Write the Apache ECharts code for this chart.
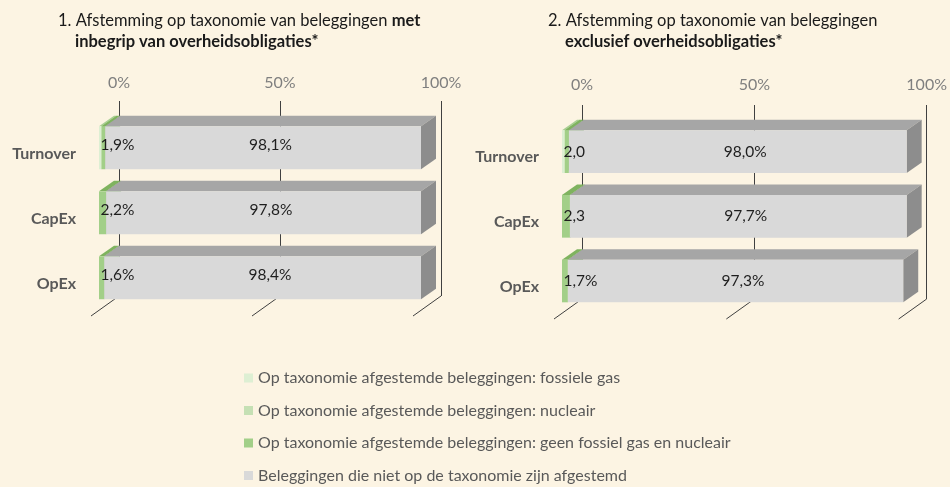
<!DOCTYPE html>
<html>
<head>
<meta charset="utf-8">
<script src="https://cdn.jsdelivr.net/npm/echarts@6/dist/echarts.min.js"></script>
<style>
html,body{margin:0;padding:0;background:#fcf4e3;}
#chart{width:950px;height:487px;}
</style>
</head>
<body>
<div id="chart"></div>
<script>
// ---- data ----
const categories = ['Turnover', 'CapEx', 'OpEx'];
const seriesNames = [
  'Op taxonomie afgestemde beleggingen: fossiele gas',
  'Op taxonomie afgestemde beleggingen: nucleair',
  'Op taxonomie afgestemde beleggingen: geen fossiel gas en nucleair',
  'Beleggingen die niet op de taxonomie zijn afgestemd'
];
// chart 1: met inbegrip van overheidsobligaties
const leftFossilGas = [0.8, 0.0, 0.0];
const leftNuclear   = [0.0, 0.0, 0.0];
const leftOtherAligned = [1.1, 2.2, 1.6];
const leftNotAligned   = [98.1, 97.8, 98.4];
const leftAlignedLabels = ['1,9%', '2,2%', '1,6%'];
// chart 2: exclusief overheidsobligaties
const rightFossilGas = [0.8, 0.0, 0.0];
const rightNuclear   = [0.0, 0.0, 0.0];
const rightOtherAligned = [1.2, 2.3, 1.7];
const rightNotAligned   = [98.0, 97.7, 97.3];
const rightAlignedLabels = ['2,0', '2,3', '1,7%'];
const xTickValues = [0, 50, 100];

// ---- styling ----
const FONT = 'Lato';
const faceColors = [
  {front: '#ddefd3', top: '#a8cf92', side: '#9cc585'},
  {front: '#c5e0b4', top: '#8fc070', side: '#86b868'},
  {front: '#a2cf88', top: '#7fb35f', side: '#74a956'},
  {front: '#d9d9d9', top: '#a6a6a6', side: '#8d8d8d'}
];
const FRONT_DX = 20, FRONT_DY = 14.3;   // front face offset from back wall
const BAR_DX = 15, BAR_DY = 10.5;       // bar depth
const FLOOR_DX = 28, FLOOR_DY = 20;     // floor depth
const BAR_RATIO = 0.66;

function fmt(v) { return v.toFixed(1).replace('.', ',') + '%'; }

function stackData(arrs) {
  const out = arrs.map(() => []);
  for (let c = 0; c < categories.length; c++) {
    let acc = 0;
    arrs.forEach((a, k) => {
      out[k].push([c, acc, acc + a[c], a[c]]);
      acc += a[c];
    });
  }
  return out;
}

function geom(api, cat, s, e) {
  const p0 = api.coord([s, cat]);
  const p1 = api.coord([e, cat]);
  const band = api.size([0, 1])[1];
  const h = band * BAR_RATIO;
  const cy = p0[1] + FRONT_DY;
  return {x0: p0[0] - FRONT_DX, x1: p1[0] - FRONT_DX, top: cy - h / 2, bot: cy + h / 2, cy: cy};
}

function segRender(k) {
  return function (params, api) {
    const cat = api.value(0), s = api.value(1), e = api.value(2);
    if (api.value(3) <= 0) return null;
    const g = geom(api, cat, s, e);
    const c = faceColors[k];
    return {
      type: 'group',
      children: [
        {type: 'polygon', shape: {points: [[g.x0, g.top], [g.x1, g.top], [g.x1 + BAR_DX, g.top - BAR_DY], [g.x0 + BAR_DX, g.top - BAR_DY]]}, style: {fill: c.top}},
        {type: 'polygon', shape: {points: [[g.x1, g.top], [g.x1 + BAR_DX, g.top - BAR_DY], [g.x1 + BAR_DX, g.bot - BAR_DY], [g.x1, g.bot]]}, style: {fill: c.side}},
        {type: 'rect', shape: {x: g.x0, y: g.top, width: g.x1 - g.x0, height: g.bot - g.top}, style: {fill: c.front}}
      ]
    };
  };
}

function labelRender(alignedLabels, notAligned, dyOff) {
  return function (params, api) {
    const cat = api.value(0), s = api.value(1), e = api.value(2);
    const g = geom(api, cat, s, e);
    const gs = geom(api, cat, 0, s);
    return {
      type: 'group',
      children: [
        {type: 'text', style: {text: alignedLabels[cat], x: gs.x0 + 1.5, y: g.cy + dyOff, align: 'left', verticalAlign: 'middle', fill: '#1e1e1e', font: '15.5px ' + FONT}},
        {type: 'text', style: {text: fmt(notAligned[cat]), x: (g.x0 + g.x1) / 2 + BAR_DX / 2, y: g.cy + dyOff, align: 'center', verticalAlign: 'middle', fill: '#1e1e1e', font: '15.5px ' + FONT}}
      ]
    };
  };
}

function floorRender(params, api) {
  const v = api.value(0);
  const p = api.coord([v, categories.length - 1]);
  const band = api.size([0, 1])[1];
  const y = p[1] + band / 2;
  return {type: 'line', shape: {x1: p[0], y1: y, x2: p[0] - FLOOR_DX, y2: y + FLOOR_DY}, style: {stroke: '#404040', lineWidth: 1}};
}

function buildSeries(idx, arrs, alignedLabels, notAligned, dyOff) {
  const stacked = stackData(arrs);
  const list = [];
  list.push({type: 'custom', xAxisIndex: idx, yAxisIndex: idx, renderItem: floorRender, data: xTickValues.map(v => [v]), encode: {x: 0}, silent: true, z: 1});
  stacked.forEach((d, k) => {
    list.push({
      type: 'custom', name: seriesNames[k], xAxisIndex: idx, yAxisIndex: idx,
      renderItem: segRender(k), data: d, encode: {x: [1, 2], y: 0},
      itemStyle: {color: faceColors[k].front}, z: 2
    });
  });
  const lblData = categories.map((c, i) => {
    const s = arrs[0][i] + arrs[1][i] + arrs[2][i];
    return [i, s, s + notAligned[i]];
  });
  list.push({type: 'custom', xAxisIndex: idx, yAxisIndex: idx, renderItem: labelRender(alignedLabels, notAligned, dyOff), data: lblData, encode: {x: [1, 2], y: 0}, silent: true, z: 5});
  return list;
}

const xAxisBase = {
  type: 'value', min: 0, max: 100, interval: 50, position: 'top',
  axisLine: {show: false}, axisTick: {show: false},
  axisLabel: {formatter: '{value}%', color: '#7f7f7f', fontSize: 16, fontFamily: FONT, margin: 10},
  splitLine: {show: true, lineStyle: {color: '#404040', width: 1}}
};
const yAxisBase = {
  type: 'category', data: categories, inverse: true,
  axisLine: {show: false}, axisTick: {show: false}, splitLine: {show: false},
  axisLabel: {color: '#595959', fontSize: 16, fontWeight: 'bold', fontFamily: FONT, margin: 43, lineHeight: 40,
    interval: 0, hideOverlap: false,
    formatter: function (v) { return '\n' + v; }}
};

const titleStyle = {fontSize: 16.5, fontWeight: 'normal', color: '#1a1a1a', fontFamily: FONT,
  rich: {b: {fontSize: 16.5, fontWeight: 'bold', color: '#1a1a1a', fontFamily: FONT}}};

const option = {
  backgroundColor: '#fcf4e3',
  animation: false,
  title: [
    {text: '1. Afstemming op taxonomie van beleggingen {b|met}', left: 58, top: 12, padding: 0, textStyle: titleStyle},
    {text: 'inbegrip van overheidsobligaties*', left: 75, top: 33, padding: 0, textStyle: Object.assign({}, titleStyle, {fontWeight: 'bold'})},
    {text: '2. Afstemming op taxonomie van beleggingen', left: 548, top: 12, padding: 0, textStyle: titleStyle},
    {text: 'exclusief overheidsobligaties*', left: 565, top: 33, padding: 0, textStyle: Object.assign({}, titleStyle, {fontWeight: 'bold'})}
  ],
  legend: {
    orient: 'vertical', left: 244, top: 370, padding: 0, itemWidth: 9, itemHeight: 9, itemGap: 16.5,
    icon: 'rect', data: seriesNames, selectedMode: false,
    textStyle: {color: '#595959', fontSize: 16, fontFamily: FONT}
  },
  grid: [
    {left: 119, width: 322, top: 101, height: 195},
    {left: 582, width: 347, top: 105, height: 194}
  ],
  xAxis: [
    Object.assign({}, xAxisBase, {gridIndex: 0}),
    Object.assign({}, xAxisBase, {gridIndex: 1, axisLabel: Object.assign({}, xAxisBase.axisLabel, {margin: 12})})
  ],
  yAxis: [
    Object.assign({}, yAxisBase, {gridIndex: 0}),
    Object.assign({}, yAxisBase, {gridIndex: 1})
  ],
  series: [].concat(
    buildSeries(0, [leftFossilGas, leftNuclear, leftOtherAligned, leftNotAligned], leftAlignedLabels, leftNotAligned, -3),
    buildSeries(1, [rightFossilGas, rightNuclear, rightOtherAligned, rightNotAligned], rightAlignedLabels, rightNotAligned, 0)
  )
};

const chart = echarts.init(document.getElementById('chart'), null, {renderer: 'canvas'});
chart.setOption(option);
</script>
</body>
</html>
